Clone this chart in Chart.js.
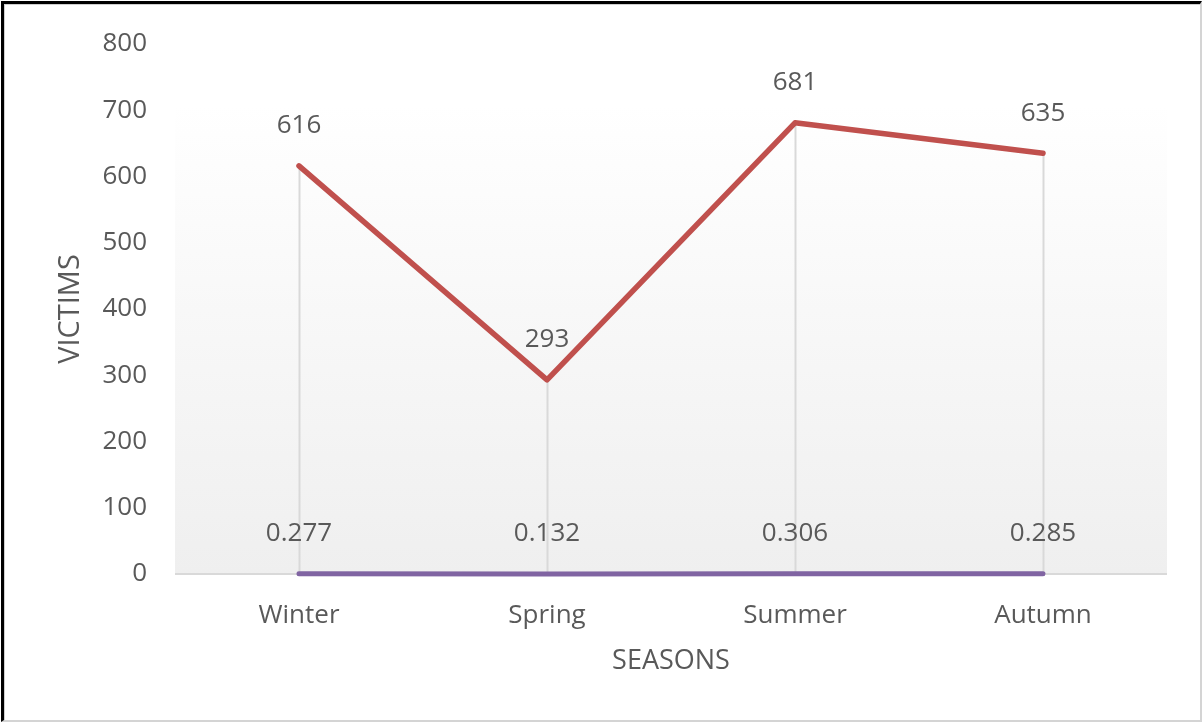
<!DOCTYPE html>
<html>
<head>
<meta charset="utf-8">
<script src="https://cdn.jsdelivr.net/npm/chart.js@4.4.1/dist/chart.umd.min.js"></script>
<style>
  html, body { margin: 0; padding: 0; background: #fff; }
  .wrap { position: relative; width: 1203px; height: 722px; }
  .wrap canvas { position: absolute; left: 0; top: 0; }
  .frame {
    position: absolute; left: 1px; top: 1px; width: 1201px; height: 721px;
    box-sizing: border-box; pointer-events: none;
    border-top: 3px solid #000; border-left: 3px solid #000;
    border-right: 2px solid #d4d4d4; border-bottom: 2px solid #d4d4d4;
    box-shadow: inset 1px 1px 0 #cfcfcf;
  }
</style>
</head>
<body>
<div class="wrap">
  <canvas id="popChart" width="1203" height="722"></canvas>
  <div class="frame"></div>
</div>
<script>
const seasons = ['Winter', 'Spring', 'Summer', 'Autumn']
const victims = [616, 293, 681, 635]
const rates = [0.277, 0.132, 0.306, 0.285]
const yTicks = [0, 100, 200, 300, 400, 500, 600, 700, 800]

const FONT = "'Open Sans', 'Liberation Sans', sans-serif"
const TEXT = '#595959'

// soft white-to-grey fill behind the lines
const plotFill = {
  id: 'plotFill',
  beforeDatasetsDraw(chart) {
    const {ctx, chartArea, scales} = chart
    const top = scales.y.getPixelForValue(708)
    const g = ctx.createLinearGradient(0, top, 0, chartArea.bottom)
    g.addColorStop(0, '#ffffff')
    g.addColorStop(1, '#efefef')
    ctx.save()
    ctx.fillStyle = g
    ctx.fillRect(chartArea.left, top, chartArea.right - chartArea.left, chartArea.bottom - top)
    // drop lines from the highest point of each category
    ctx.strokeStyle = '#d9d9d9'
    ctx.lineWidth = 2
    seasons.forEach((s, i) => {
      let best = chartArea.bottom
      chart.data.datasets.forEach((ds, k) => {
        const p = chart.getDatasetMeta(k).data[i]
        if (p && p.y < best) best = p.y
      })
      const x = Math.round(scales.x.getPixelForValue(i)) + 0.5
      ctx.beginPath()
      ctx.moveTo(x, best)
      ctx.lineTo(x, chartArea.bottom)
      ctx.stroke()
    })
    // category axis line
    ctx.beginPath()
    ctx.moveTo(chartArea.left, chartArea.bottom)
    ctx.lineTo(chartArea.right, chartArea.bottom)
    ctx.lineWidth = 2
    ctx.stroke()
    ctx.restore()
  }
}

// value labels above each point
const valueLabels = {
  id: 'valueLabels',
  afterDatasetsDraw(chart) {
    const {ctx} = chart
    ctx.save()
    ctx.font = '26px ' + FONT
    ctx.fillStyle = TEXT
    ctx.textAlign = 'center'
    ctx.textBaseline = 'middle'
    chart.data.datasets.forEach((ds, k) => {
      chart.getDatasetMeta(k).data.forEach((p, i) => {
        ctx.fillText(String(ds.data[i]), p.x, p.y - 40)
      })
    })
    ctx.restore()
  }
}

const config = {
  type: 'line',
  data: {
    labels: seasons,
    datasets: [
      {
        label: 'Victims',
        data: victims,
        borderColor: '#c0504d',
        borderWidth: 5.5,
        borderCapStyle: 'round',
        borderJoinStyle: 'round',
        pointRadius: 0,
        clip: false,
        fill: false
      },
      {
        label: 'Rate',
        data: rates,
        borderColor: '#8064a2',
        borderWidth: 5,
        borderCapStyle: 'round',
        pointRadius: 0,
        clip: false,
        fill: false
      }
    ]
  },
  options: {
    responsive: false,
    animation: false,
    layout: { padding: { left: 40, right: 36, top: 44, bottom: 0 } },
    plugins: {
      legend: { display: false },
      tooltip: { enabled: false }
    },
    scales: {
      x: {
        offset: true,
        grid: { display: false, drawTicks: false },
        border: { display: false },
        ticks: { color: TEXT, font: { family: FONT, size: 26 }, padding: 26 },
        title: {
          display: true,
          text: 'SEASONS',
          color: TEXT,
          font: { family: FONT, size: 27 },
          padding: { top: 0, bottom: 44 }
        },
        afterFit(scale) { scale.height = 148 }
      },
      y: {
        min: 0,
        max: 800,
        afterBuildTicks(scale) { scale.ticks = yTicks.map(v => ({value: v})) },
        grid: { display: false, drawTicks: false },
        border: { display: false },
        ticks: { color: TEXT, font: { family: FONT, size: 26 }, padding: 28 },
        title: {
          display: true,
          text: 'VICTIMS',
          color: TEXT,
          font: { family: FONT, size: 29 },
          padding: { top: 13, bottom: 0 }
        },
        afterFit(scale) { scale.width = 135 }
      }
    }
  },
  plugins: [plotFill, valueLabels]
}

new Chart(document.getElementById('popChart').getContext('2d'), config)
</script>
</body>
</html>
